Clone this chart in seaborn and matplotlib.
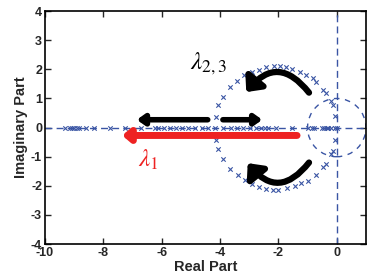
import matplotlib
matplotlib.use("Agg")
import matplotlib.pyplot as plt
import seaborn as sns
import pandas as pd
from matplotlib.patches import Circle, FancyArrowPatch

sns.set_theme(style="ticks")
plt.rcParams['font.family'] = ['Liberation Sans', 'DejaVu Sans']
plt.rcParams['mathtext.fontset'] = 'stix'

# Real-axis roots
real_x = [-9.32, -9.14, -9.06, -9.0, -8.9, -8.83, -8.6, -8.31, -7.77, -7.26, -6.69,
          -6.23, -6.12, -5.92, -5.72, -5.51, -5.30, -5.09, -4.86, -4.63, -4.41, -4.17,
          -3.89, -3.61, -3.41, -3.21, -2.98, -2.75, -2.58, -2.47, -2.35, -2.07, -1.55,
          -0.98, -0.84, -0.78, -0.52, -0.44, -0.35, -0.30, -0.18, -0.06, 0.0]
real_y = [0.0] * len(real_x)

# Complex branch (upper)
up_x = [-4.14, -4.07, -3.91, -3.64, -3.43, -3.17, -2.92, -2.66, -2.41, -2.16, -1.95,
        -1.75, -1.52, -1.27, -1.04, -0.83, -0.70, -0.47, -0.38, -0.18, -0.13, -0.07]
up_y = [0.35, 0.76, 1.04, 1.38, 1.59, 1.79, 1.90, 1.99, 2.07, 2.11, 2.11,
        2.07, 2.02, 1.92, 1.82, 1.71, 1.56, 1.30, 1.18, 0.90, 0.76, 0.41]
# Complex branch (lower)
lo_x = [-4.14, -4.07, -3.89, -3.64, -3.40, -3.15, -2.92, -2.66, -2.41, -2.20, -2.00,
        -1.70, -1.44, -1.21, -0.98, -0.72, -0.47, -0.38, -0.18, -0.13, -0.07]
lo_y = [-0.41, -0.73, -1.08, -1.42, -1.63, -1.80, -1.94, -2.03, -2.11, -2.13, -2.13,
        -2.07, -2.02, -1.91, -1.82, -1.63, -1.36, -1.25, -0.90, -0.79, -0.41]

x_ticks = [-10, -8, -6, -4, -2, 0]
y_ticks = [-4, -3, -2, -1, 0, 1, 2, 3, 4]

df = pd.DataFrame({"re": real_x + up_x + lo_x, "im": real_y + up_y + lo_y})

blue = "#3a55a4"
fig = plt.figure(figsize=(3.8, 2.78), dpi=100)
ax = fig.add_axes([0.118, 0.122, 0.845, 0.838])

ax.axhline(0, color=blue, lw=1.0, ls=(0, (5, 3)), zorder=1)
ax.axvline(0, color=blue, lw=1.0, ls=(0, (5, 3)), zorder=1)
ax.add_patch(Circle((0, 0), 1.0, fill=False, ec=blue, lw=1.0, ls=(0, (4, 4)), zorder=1))

sns.scatterplot(data=df, x="re", y="im", marker="x", s=10, color=blue,
                linewidth=0.8, ax=ax, zorder=3, legend=False)

# straight arrows
ax.add_patch(FancyArrowPatch((-4.42, 0.27), (-6.85, 0.27), arrowstyle="-|>,head_length=0.35,head_width=0.25",
                             mutation_scale=12, color="black", lw=4, zorder=4, shrinkA=0, shrinkB=0))
ax.add_patch(FancyArrowPatch((-3.9, 0.27), (-2.55, 0.27), arrowstyle="-|>,head_length=0.35,head_width=0.25",
                             mutation_scale=12, color="black", lw=4, zorder=4, shrinkA=0, shrinkB=0))
ax.add_patch(FancyArrowPatch((-1.36, -0.27), (-7.35, -0.27), arrowstyle="-|>,head_length=0.35,head_width=0.3",
                             mutation_scale=12, color="#ee2222", lw=5, zorder=4, shrinkA=0, shrinkB=0))
# curved arrows
ax.add_patch(FancyArrowPatch((-0.95, 1.2), (-3.1, 1.22), connectionstyle="arc3,rad=0.62",
                             arrowstyle="-|>,head_length=0.55,head_width=0.5",
                             mutation_scale=14, color="black", lw=4.5, zorder=4, shrinkA=0, shrinkB=0))
ax.add_patch(FancyArrowPatch((-0.95, -1.2), (-3.05, -1.22), connectionstyle="arc3,rad=-0.62",
                             arrowstyle="-|>,head_length=0.55,head_width=0.5",
                             mutation_scale=14, color="black", lw=4.5, zorder=4, shrinkA=0, shrinkB=0))

ax.text(-4.4, 2.2, r"$\lambda_{2,3}$", fontsize=18, color="black", ha="center", va="center")
ax.text(-6.45, -1.12, r"$\lambda_1$", fontsize=18, color="#ee2222", ha="center", va="center")

ax.set_xlim(-10, 1)
ax.set_ylim(-4, 4)
ax.set_xticks(x_ticks)
ax.set_yticks(y_ticks)
ax.set_xticklabels([str(t) for t in x_ticks], fontsize=9, fontweight="bold")
ax.set_yticklabels([str(t) for t in y_ticks], fontsize=9, fontweight="bold")
ax.tick_params(direction="in", top=True, right=True, length=4, width=1, pad=2)
ax.set_xlabel("Real Part", fontsize=10.5, fontweight="bold", labelpad=1)
ax.set_ylabel("Imaginary Part", fontsize=10.5, fontweight="bold", labelpad=2)
for s in ax.spines.values():
    s.set_linewidth(1.2)
    s.set_color("black")

fig.savefig("out.png", dpi=100)
